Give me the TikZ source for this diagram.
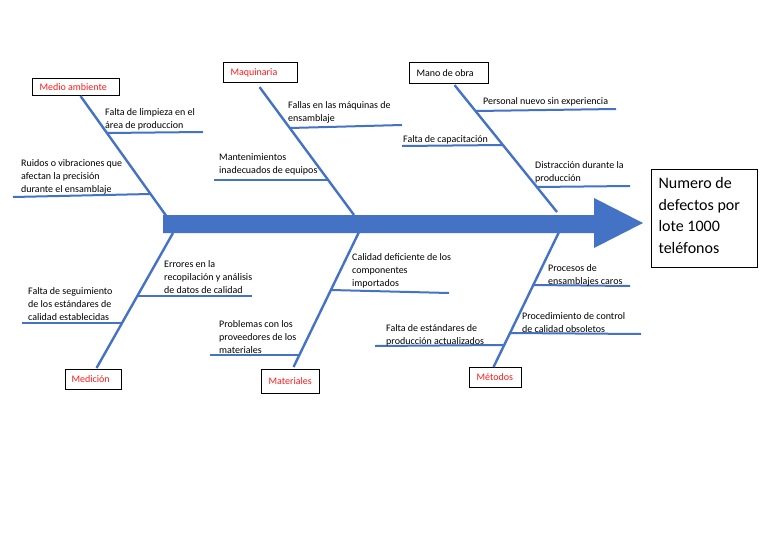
\documentclass[tikz,border=0pt]{standalone}
\usepackage{fontspec}
\setmainfont{Carlito}
\definecolor{fbblue}{HTML}{4472C4}
\definecolor{fbred}{HTML}{FF1A1A}
\newcommand\txf{\fontsize{10}{13}\selectfont}
\begin{document}
\begin{tikzpicture}[x=1pt,y=-1pt,
  bone/.style={draw=fbblue,line width=2.4pt},
  twig/.style={draw=fbblue,line width=2pt},
  lbl/.style={anchor=north west,inner sep=0pt,align=left,font=\txf},
  catbox/.style={draw=black,line width=1.1pt,anchor=north west,inner xsep=7pt,inner ysep=0pt,
    align=flush left,font=\txf,text height=7pt,text depth=1pt,text=fbred},
]
\useasboundingbox (0,0) rectangle (768,543);
\fill[white] (0,0) rectangle (768,543);

% spine with arrow head
\fill[fbblue] (163,215) -- (594,215) -- (594,198) -- (643,223) -- (594,248) -- (594,233) -- (163,233) -- cycle;

% category boxes
\node[catbox,minimum width=87pt,minimum height=17pt,text width=73pt] (ma) at (32,78) {Medio ambiente};
\node[catbox,minimum width=74pt,minimum height=20pt,text width=60pt] (mq) at (223,62) {Maquinaria};
\node[catbox,minimum width=79pt,minimum height=21pt,text width=65pt,text=black] (mo) at (409,62) {Mano de obra};
\node[catbox,minimum width=56pt,minimum height=20pt,inner xsep=6pt,text width=44pt] (me) at (65,369) {Medición};
\node[catbox,minimum width=58pt,minimum height=24pt,text width=44pt] (mt) at (261,369) {Materiales};
\node[catbox,minimum width=52pt,minimum height=20pt,text width=38pt] (md) at (469,367) {Métodos};

% effect box
\node[draw=black,line width=1.1pt,anchor=north west,minimum width=106pt,minimum height=98pt,
  inner xsep=7pt,text width=92pt,align=flush left,font=\fontsize{16}{21.5}\selectfont] (ef) at (651,169)
  {Numero de\\defectos por\\lote 1000\\teléfonos\rule[-6pt]{0pt}{6pt}};

% spine attachment points
\coordinate (s1) at (167,217);
\coordinate (s2) at (354,215);
\coordinate (s3) at (557,212);
\coordinate (s4) at (173,233);
\coordinate (s5) at (359,232);
\coordinate (s6) at (559,232);

% main bones
\draw[bone] ([xshift=4.5pt]ma.south) -- (s1);
\draw[bone] ([xshift=-1pt,yshift=-4pt]mq.south) -- (s2);
\draw[bone] ([xshift=5.5pt,yshift=-1pt]mo.south) -- (s3);
\draw[bone] (s4) -- ([xshift=3pt,yshift=1pt]me.north);
\draw[bone] (s5) -- ([xshift=3pt,yshift=2pt]mt.north);
\draw[bone] (s6) -- ([xshift=-2pt]md.north);

% sub-branch lines
\coordinate (a1s) at (107,133); \coordinate (a1e) at (203,132);
\coordinate (a2s) at (150,194); \coordinate (a2e) at (13,197);
\coordinate (b1s) at (290,128); \coordinate (b1e) at (402,125);
\coordinate (b2s) at (328,180); \coordinate (b2e) at (214,180);
\coordinate (c1s) at (476,111); \coordinate (c1e) at (616,109);
\coordinate (c2s) at (503,145); \coordinate (c2e) at (402,146);
\coordinate (c3s) at (537,187); \coordinate (c3e) at (630,186);
\coordinate (d1s) at (137,296); \coordinate (d1e) at (252,296);
\coordinate (d2s) at (122,323); \coordinate (d2e) at (22,323);
\coordinate (e1s) at (331,290); \coordinate (e1e) at (449,293);
\coordinate (e2s) at (299,355); \coordinate (e2e) at (210,355);
\coordinate (f1s) at (533,285); \coordinate (f1e) at (630,286);
\coordinate (f2s) at (510,333); \coordinate (f2e) at (641,334);
\coordinate (f3s) at (503,345); \coordinate (f3e) at (375,346);
\foreach \k in {a1,a2,b1,b2,c1,c2,c3,d1,d2,e1,e2,f1,f2,f3}
  \draw[twig] (\k s) -- (\k e);

% cause texts (x, first baseline - 9.1)
\node[lbl] (t1) at (105,106.4) {\strut Falta de limpieza en el\\área de produccion};
\node[lbl] (t2) at (21,157.4) {\strut Ruidos o vibraciones que\\afectan la precisión\\durante el ensamblaje};
\node[lbl] (t3) at (288,99.4) {\strut Fallas en las máquinas de\\ensamblaje};
\node[lbl] (t4) at (219,150.9) {\strut Mantenimientos\\inadecuados de equipos};
\node[lbl] (t5) at (483,94.9) {\strut Personal nuevo sin experiencia};
\node[lbl] (t6) at (403,133.4) {\strut Falta de capacitación};
\node[lbl] (t7) at (535,159.4) {\strut Distracción durante la\\producción};
\node[lbl] (t8) at (164,257.7) {\strut Errores en la\\recopilación y análisis\\de datos de calidad};
\node[lbl] (t9) at (28,285.4) {\strut Falta de seguimiento\\de los estándares de\\calidad establecidas};
\node[lbl] (t10) at (352,250.9) {\strut Calidad deficiente de los\\componentes\\importados};
\node[lbl] (t11) at (219,317.7) {\strut Problemas con los\\proveedores de los\\materiales};
\node[lbl] (t12) at (548,261.9) {\strut Procesos de\\ensamblajes caros};
\node[lbl] (t13) at (522,309.9) {\strut Procedimiento de control\\de calidad obsoletos};
\node[lbl] (t14) at (386,321.9) {\strut Falta de estándares de\\producción actualizados};
\end{tikzpicture}
\end{document}
